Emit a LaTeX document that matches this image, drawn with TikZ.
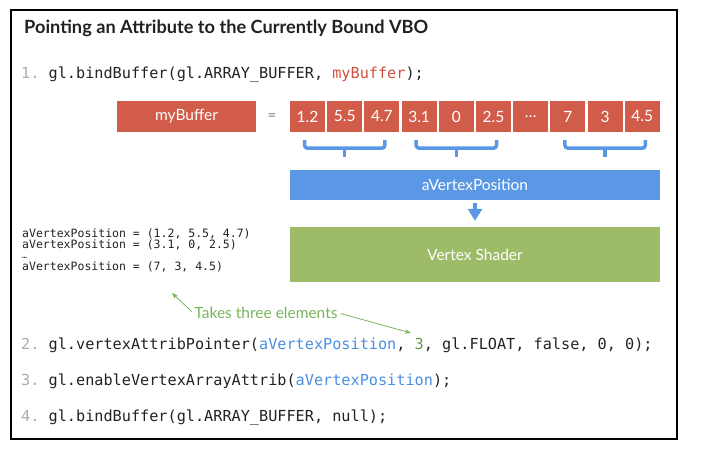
\documentclass[tikz,border=0pt]{standalone}
\usepackage{fontspec}
\setmainfont{Lato}
\setmonofont{DejaVu Sans Mono}
\usetikzlibrary{positioning, calc, arrows.meta}

\definecolor{bufred}{HTML}{D25C4A}
\definecolor{attrblue}{HTML}{5A97E4}
\definecolor{shadergreen}{HTML}{9EBB68}
\definecolor{notegreen}{HTML}{78B45C}
\definecolor{codeblue}{HTML}{4A8FE2}
\definecolor{codered}{HTML}{D0503E}
\definecolor{codegreen}{HTML}{6E9A48}
\definecolor{numgray}{HTML}{ABABAB}
\definecolor{codeink}{HTML}{222222}

\tikzset{
  boxtext/.style={text=white, inner sep=0pt, font=\fontsize{15.5}{15.5}\selectfont},
  cell/.style={boxtext, fill=bufred, minimum width=35pt, minimum height=31pt},
  bufname/.style={boxtext, fill=bufred, minimum width=139pt, minimum height=31pt},
  attrbar/.style={boxtext, fill=attrblue, minimum width=370pt, minimum height=30pt},
  shaderbox/.style={boxtext, fill=shadergreen, minimum width=370pt, minimum height=55pt},
  groupbrace/.style={draw=attrblue, line width=3.5pt, rounded corners=3pt},
  flowarrow/.style={draw=attrblue, line width=4pt, -{Triangle[width=14pt,length=12pt]}, shorten <=3pt, shorten >=6pt},
  codeline/.style={anchor=west, inner sep=0pt, text=codeink, font=\ttfamily\fontsize{15.2}{15.2}\selectfont},
  valueline/.style={anchor=west, inner sep=0pt, text=codeink, font=\ttfamily\fontsize{11.5}{11.5}\selectfont},
  note/.style={text=notegreen, inner sep=1pt, font=\fontsize{15.5}{15.5}\selectfont},
  notearrow/.style={draw=notegreen, line width=0.8pt, -{Stealth[length=6pt,width=4.5pt]}, shorten <=2pt}
}

% brace under a group of three cells
\newcommand\groupunder[2]{%
  \draw[groupbrace] ([shift={(-3,8)}]#1.south) -- ([shift={(-3,16)}]#1.south)
    -- ([shift={(3,16)}]#2.south) -- ([shift={(3,8)}]#2.south);
  \draw[groupbrace, rounded corners=0pt] ($(#1.south)!0.5!(#2.south)+(0,15)$) -- ++(0,10);
}

\begin{document}
\begin{tikzpicture}[x=1pt, y=-1pt]
  \useasboundingbox (0,0) rectangle (706,458);
  \draw[line width=1.6pt] (11,10) rectangle (677,439);

  \node[anchor=west, inner sep=0pt, text=codeink, font=\bfseries\fontsize{18.2}{18.2}\selectfont] (title) at (24,28)
    {Pointing an Attribute to the Currently Bound VBO};

  \node[codeline] (line1) at (21,74)
    {{\color{numgray}1.} gl.bindBuffer(gl.ARRAY\_BUFFER, {\color{codered}myBuffer});};

  % the buffer and its values
  \node[bufname] (buf) at (186.5,116.5) {myBuffer};
  \node[text=gray, font=\fontsize{15}{15}\selectfont] (eq) at (272,117) {=};
  \foreach \v [count=\i] in {1.2,5.5,4.7,3.1,0,2.5,…,7,3,4.5}
    \node[cell] (c\i) at (307.5+37.2*\i-37.2, 116.5) {\v};

  \groupunder{c1}{c3}
  \groupunder{c4}{c6}
  \groupunder{c8}{c10}

  \node[attrbar] (attr) at (475,185) {aVertexPosition};
  \node[shaderbox] (shader) at (475,254.5) {Vertex Shader};
  \draw[flowarrow] (attr) -- (shader);

  \node[valueline] (vals1) at (22,233.5) {aVertexPosition = (1.2, 5.5, 4.7)};
  \node[valueline] (vals2) at (22,245) {aVertexPosition = (3.1, 0, 2.5)};
  \node[valueline, font=\ttfamily\fontsize{8}{8}\selectfont] (dots) at (22,257.5) {…};
  \node[valueline] (vals3) at (22,267) {aVertexPosition = (7, 3, 4.5)};

  \node[note] (note) at (266,313) {Takes three elements};
  \coordinate (tip1) at (172,293);
  \coordinate (tip2) at (411,333);
  \draw[notearrow] (note.west) -- (tip1);
  \draw[notearrow] (note.east) -- (tip2);

  \node[codeline] (line2) at (21,345)
    {{\color{numgray}2.} gl.vertexAttribPointer({\color{codeblue}aVertexPosition}, {\color{codegreen}3}, gl.FLOAT, false, 0, 0);};
  \node[codeline] (line3) at (21,381)
    {{\color{numgray}3.} gl.enableVertexArrayAttrib({\color{codeblue}aVertexPosition});};
  \node[codeline] (line4) at (21,417)
    {{\color{numgray}4.} gl.bindBuffer(gl.ARRAY\_BUFFER, null);};
\end{tikzpicture}
\end{document}
